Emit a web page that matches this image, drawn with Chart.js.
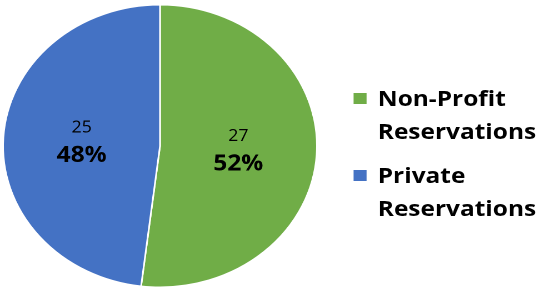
<!DOCTYPE html>
<html>
<head>
<meta charset="utf-8">
<script src="https://cdn.jsdelivr.net/npm/chart.js@4/dist/chart.umd.min.js"></script>
<style>
  html, body { margin: 0; padding: 0; background: #fff; overflow: hidden; }
  /* the reference is stretched sideways, so the whole drawing is scaled on x */
  #stage {
    position: relative;
    width: 486px;
    height: 289px;
    transform: scaleX(1.1111);
    transform-origin: 0 0;
  }
  #pie { position: absolute; left: 0; top: 0; }
  #legend {
    position: absolute;
    left: 318px;
    top: 81px;
    font-family: "Open Sans", sans-serif;
    font-weight: bold;
    font-size: 22px;
    line-height: 33px;
    color: #000;
  }
  .legend-item { position: relative; padding-left: 22px; margin-bottom: 11px; }
  .legend-box { position: absolute; left: 0; top: 12px; width: 12px; height: 11px; }
</style>
</head>
<body>
<div id="stage">
  <canvas id="pie" width="486" height="289"></canvas>
  <div id="legend"></div>
</div>
<script>
const categories = [['Non-Profit', 'Reservations'], ['Private', 'Reservations']];
const counts = [27, 25];
const sliceColors = ['#70AD47', '#4472C4'];

document.addEventListener('DOMContentLoaded', () => {
    const total = counts.reduce((a, b) => a + b, 0);

    // count + percentage in the middle of each slice
    const sliceLabels = {
        id: 'sliceLabels',
        afterDatasetsDraw(chart) {
            const ctx = chart.ctx;
            const meta = chart.getDatasetMeta(0);
            ctx.save();
            ctx.fillStyle = '#000';
            ctx.textAlign = 'center';
            ctx.textBaseline = 'middle';
            meta.data.forEach((arc, i) => {
                const pos = arc.tooltipPosition();
                const pct = Math.round(counts[i] / total * 100) + '%';
                ctx.font = '16px "Open Sans"';
                ctx.fillText(String(counts[i]), pos.x, pos.y - 14);
                ctx.font = 'bold 22px "Open Sans"';
                ctx.fillText(pct, pos.x, pos.y + 14);
            });
            ctx.restore();
        }
    };

    new Chart(document.getElementById('pie'), {
        type: 'pie',
        data: {
            labels: categories.map(c => c.join(' ')),
            datasets: [{
                data: counts,
                backgroundColor: sliceColors,
                borderColor: '#fff',
                borderWidth: 1.5
            }]
        },
        options: {
            responsive: false,
            animation: false,
            devicePixelRatio: 2,
            layout: { padding: { left: 2, top: 4, bottom: 1, right: 200 } },
            plugins: {
                legend: { display: false },
                tooltip: { enabled: false }
            }
        },
        plugins: [sliceLabels]
    });

    // legend built from the same arrays
    const legend = document.getElementById('legend');
    categories.forEach((lines, i) => {
        const item = document.createElement('div');
        item.className = 'legend-item';
        const box = document.createElement('span');
        box.className = 'legend-box';
        box.style.background = sliceColors[i];
        item.appendChild(box);
        lines.forEach(line => {
            const row = document.createElement('div');
            row.textContent = line;
            item.appendChild(row);
        });
        legend.appendChild(item);
    });
});
</script>
</body>
</html>
